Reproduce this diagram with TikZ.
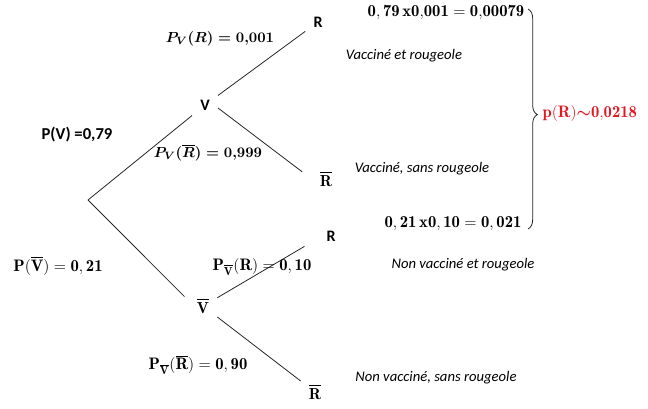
\documentclass[tikz,border=0pt]{standalone}
\usepackage{amsmath}
\usepackage{fontspec}
\newfontfamily\carlito{Carlito}
\usetikzlibrary{decorations.pathreplacing}
\definecolor{rouge}{RGB}{225,25,35}
\tikzset{
  lettre/.style={font=\fontsize{12}{14}\selectfont\carlito\bfseries, inner sep=6pt},
  proba/.style={font=\fontsize{11}{13}\selectfont\boldmath},
  probad/.style={font=\fontsize{12.5}{14}\selectfont},
  issue/.style={font=\fontsize{11}{13}\selectfont\carlito\itshape},
  branche/.style={line width=0.6pt, black!85}
}
\begin{document}
\begin{tikzpicture}[x=0.75pt,y=-0.75pt]
\useasboundingbox (0,0) rectangle (648,408);
\coordinate (racine) at (88,200);
\node[lettre] (V) at (205,105) {V};
\node[lettre] (Vb) at (203,306) {$\overline{\mathbf{V}}$};
\node[lettre] (R1) at (318,22) {R};
\node[lettre] (R1b) at (326,179) {$\overline{\mathbf{R}}$};
\node[lettre] (R2) at (331,236) {R};
\node[lettre] (R2b) at (315,392) {$\overline{\mathbf{R}}$};
% les branches
\draw[branche] (racine) -- (V);
\draw[branche, shorten >=4.5pt] (racine) -- (Vb.160);
\draw[branche] (V) -- (R1);
\draw[branche, shorten >=9pt] (V.-13) -- (R1b.west);
\draw[branche, shorten >=12pt] (Vb.30) -- (R2.190);
\draw[branche] (Vb) -- (R2b);
% probabilites
\node[font=\fontsize{12.5}{14}\selectfont\carlito\bfseries] (pV) at (77,135) {P(V) =0,79};
\node[proba] (pVR) at (220,39) {$P_V(R)=0{,}001$};
\node[proba] (pVRb) at (208,153) {$P_V(\overline{R})=0{,}999$};
\node[probad] (pVb) at (58,266) {$\mathbf{P(\overline{V})=0,21}$};
\node[probad] (pVbR) at (262,267) {$\mathbf{P_{\overline{V}}(R)=0,10}$};
\node[probad] (pVbRb) at (198,365) {$\mathbf{P_{\overline{V}}(\overline{R})=0,90}$};
% issues
\node[issue] (i1) at (404,56) {Vacciné et rougeole};
\node[issue] (i2) at (422,169) {Vacciné, sans rougeole};
\node[issue] (i3) at (463,265) {Non vacciné et rougeole};
\node[issue] (i4) at (436,378) {Non vacciné, sans rougeole};
% produits et total
\node[probad] (prod1) at (446,12) {$\mathbf{0,79\,x0{,}001=0{,}00079}$};
\node[probad] (prod2) at (453,224) {$\mathbf{0,21\,x0,10=0,021}$};
\coordinate (bhaut) at (528,9);
\coordinate (bbas) at (528,229);
\draw[branche, decorate, decoration={brace, amplitude=7pt, aspect=0.48}] (bhaut) -- (bbas);
\node[probad, text=rouge, anchor=west, inner sep=1pt] (somme) at (541,113) {$\mathbf{p(R){\boldsymbol{\sim}}0{,}0218}$};
\end{tikzpicture}
\end{document}
